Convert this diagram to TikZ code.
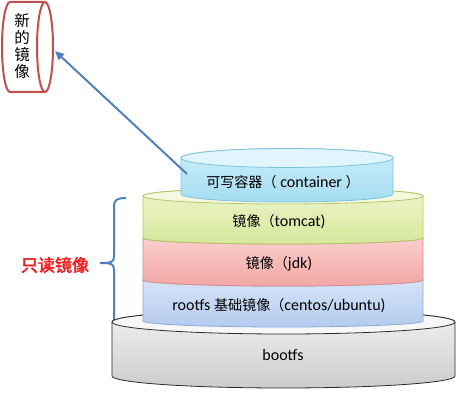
\documentclass[tikz,border=0pt]{standalone}
\usepackage{fontspec}
\setmainfont{Carlito}
\newfontfamily\cjk[Scale=0.88]{Noto Sans CJK SC}
\newfontfamily\cjkfull{Noto Sans CJK SC}
\newfontfamily\cjkbold[FakeBold=2.5]{Noto Sans CJK SC}
\usetikzlibrary{arrows.meta}
\definecolor{cbord}{HTML}{7CC3DD}
\definecolor{ctop}{HTML}{CDEFFA}
\definecolor{cbot}{HTML}{A4DCF1}
\definecolor{tbord}{HTML}{B0C766}
\definecolor{ttop}{HTML}{EEF5CB}
\definecolor{tbot}{HTML}{D6E79C}
\definecolor{jbord}{HTML}{D88A88}
\definecolor{jtop}{HTML}{FCD3D2}
\definecolor{jbot}{HTML}{F2A7A5}
\definecolor{rbord}{HTML}{8CA9D8}
\definecolor{rtop}{HTML}{DAE6F8}
\definecolor{rbot}{HTML}{B3CBEF}
\definecolor{bbord}{HTML}{2B2B2B}
\definecolor{btop}{HTML}{F2F2F2}
\definecolor{bbot}{HTML}{CCCCCC}
\definecolor{newred}{HTML}{C0504D}
\definecolor{arrblue}{HTML}{4F81BD}
\definecolor{lblred}{HTML}{EE1C1C}
\newcommand{\mycyl}[9]{%
  \pgfmathsetmacro\cylrx{(#2-#1)/2}%
  \pgfmathsetmacro\cylcx{(#1+#2)/2}%
  \path[draw=#9, line width=0.8pt, top color=#7, bottom color=#8]
    (#1,#3) -- (#1,#5) arc[start angle=180,end angle=360,x radius=\cylrx,y radius=#6]
    -- (#2,#3) arc[start angle=0,end angle=180,x radius=\cylrx,y radius=#4] -- cycle;
  \path[draw=#9, line width=0.8pt, fill=#7!60!white] (\cylcx,#3) ellipse [x radius=\cylrx, y radius=#4];
}
\begin{document}
\begin{tikzpicture}[x=1pt,y=1pt,
  lbl/.style={font=\fontsize{16}{19}\selectfont, inner sep=0pt, text=black},
  newc/.style={draw=newred, line width=2pt},
  bluel/.style={draw=arrblue, line width=2pt}]
\useasboundingbox (0,0) rectangle (460,401);

% brace
\draw[bluel] (126,203) .. controls (117,203) and (114,201) .. (114,195) -- (114,145)
  .. controls (114,139) and (112,138) .. (100,138)
  .. controls (112,138) and (114,137) .. (114,131) -- (114,71);

% stack
\mycyl{112}{455}{79}{12}{25}{12}{btop}{bbot}{bbord}
\mycyl{143}{423}{121}{6}{80}{6}{rtop}{rbot}{rbord}
\mycyl{143}{423}{163}{6}{121}{6}{jtop}{jbot}{jbord}
\mycyl{143}{423}{205}{8}{163}{6}{ttop}{tbot}{tbord}
\mycyl{181}{393}{243}{9.5}{207}{8}{ctop}{cbot}{cbord}

\node[lbl] (boot) at (283,46) {bootfs};
\node[lbl] (rootfs) at (279,95) {rootfs {\cjk 基础镜像（}centos/ubuntu)};
\node[lbl] (jdk) at (279,137) {{\cjk 镜像（}jdk)};
\node[lbl] (tomcat) at (279,179) {{\cjk 镜像（}tomcat)};
\node[lbl] (container) at (283,219) {{\cjk 可写容器（} container {\cjk ）}};

% new image cylinder
\path[fill=white] (10,399) -- (45,399) -- (45,309) -- (10,309) arc[start angle=270,end angle=90,x radius=8,y radius=45] -- cycle;
\draw[newc] (45,399) -- (10,399) arc[start angle=90,end angle=270,x radius=8,y radius=45] -- (45,309);
\draw[newc, fill=white] (45,354) ellipse [x radius=8, y radius=45];
\node[inner sep=0pt, align=center, font=\cjkfull\fontsize{15.5}{17}\selectfont] (newimg) at (22,355) {新\\的\\镜\\像};

% arrow
\coordinate (arrS) at (187,227);
\coordinate (arrE) at (55,350);
\draw[bluel, -{Triangle[length=9pt,width=8pt]}] (arrS) -- (arrE);

% read-only label
\node[inner sep=0pt, text=lblred, font=\cjkbold\fontsize{17}{20}\selectfont] (ro) at (55,136) {只读镜像};
\end{tikzpicture}
\end{document}
